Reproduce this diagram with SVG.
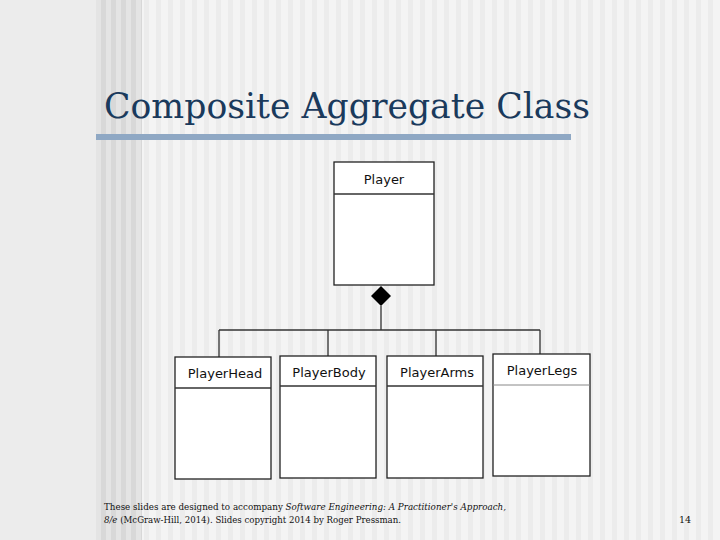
<svg xmlns="http://www.w3.org/2000/svg" width="720" height="540" viewBox="0 0 720 540">
<defs>
<pattern id="st" x="96" y="0" width="12" height="540" patternUnits="userSpaceOnUse">
<rect width="12" height="540" fill="#f4f4f4"/><rect x="0" width="5" height="540" fill="#ececec"/>
</pattern>
<pattern id="st2" x="96" y="0" width="10" height="540" patternUnits="userSpaceOnUse">
<rect width="10" height="540" fill="#e4e4e4"/><rect x="5" width="5" height="540" fill="#d8d8d8"/>
</pattern>
</defs>
<style>
.box{fill:#fff;stroke:#222;stroke-width:1.3}
.ln{stroke:#333;stroke-width:1.3;fill:none}
.cls{font-family:"DejaVu Sans",sans-serif;font-size:13px;fill:#111;text-anchor:middle}
.ft{font-family:"DejaVu Serif",serif;font-size:9.5px;fill:#111}
</style>
<rect width="720" height="540" fill="url(#st)"/>
<rect width="96" height="540" fill="#ececec"/>
<rect x="96" width="46" height="540" fill="url(#st2)"/>
<text x="104" y="118" font-family="DejaVu Serif,serif" font-size="36" fill="#1a3a5c" textLength="486" lengthAdjust="spacingAndGlyphs">Composite Aggregate Class</text>
<rect x="96" y="134" width="475" height="6" fill="#8fa8c4"/>
<g id="connectors">
<polygon points="381,286 391,296 381,306 371,296" fill="#000"/>
<path class="ln" d="M381,306V330M219,330H540M219,330V357M328,330V356M436,330V356M540,330V354"/>
</g>
<g id="Player"><rect class="box" x="334" y="162" width="100" height="123"/><line class="ln" x1="334" y1="194" x2="434" y2="194"/><text class="cls" x="384" y="184">Player</text></g>
<g id="PlayerHead"><rect class="box" x="175" y="357" width="96" height="122"/><line class="ln" x1="175" y1="388" x2="271" y2="388"/><text class="cls" x="225" y="378">PlayerHead</text></g>
<g id="PlayerBody"><rect class="box" x="280" y="356" width="96" height="122"/><line class="ln" x1="280" y1="386" x2="376" y2="386"/><text class="cls" x="329" y="377">PlayerBody</text></g>
<g id="PlayerArms"><rect class="box" x="387" y="356" width="96" height="122"/><line class="ln" x1="387" y1="386" x2="483" y2="386"/><text class="cls" x="437" y="377">PlayerArms</text></g>
<g id="PlayerLegs"><rect class="box" x="493" y="354" width="97" height="122" stroke="#888"/><line x1="493" y1="385" x2="590" y2="385" stroke="#888"/><text class="cls" x="542" y="375">PlayerLegs</text></g>
<text class="ft" x="104" y="510" textLength="402" lengthAdjust="spacingAndGlyphs">These slides are designed to accompany <tspan font-style="italic">Software Engineering: A Practitioner's Approach,</tspan></text>
<text class="ft" x="104" y="523" textLength="297" lengthAdjust="spacingAndGlyphs"><tspan font-style="italic">8/e</tspan> (McGraw-Hill, 2014). Slides copyright 2014 by Roger Pressman.</text>
<text class="ft" x="679" y="523">14</text>
</svg>
